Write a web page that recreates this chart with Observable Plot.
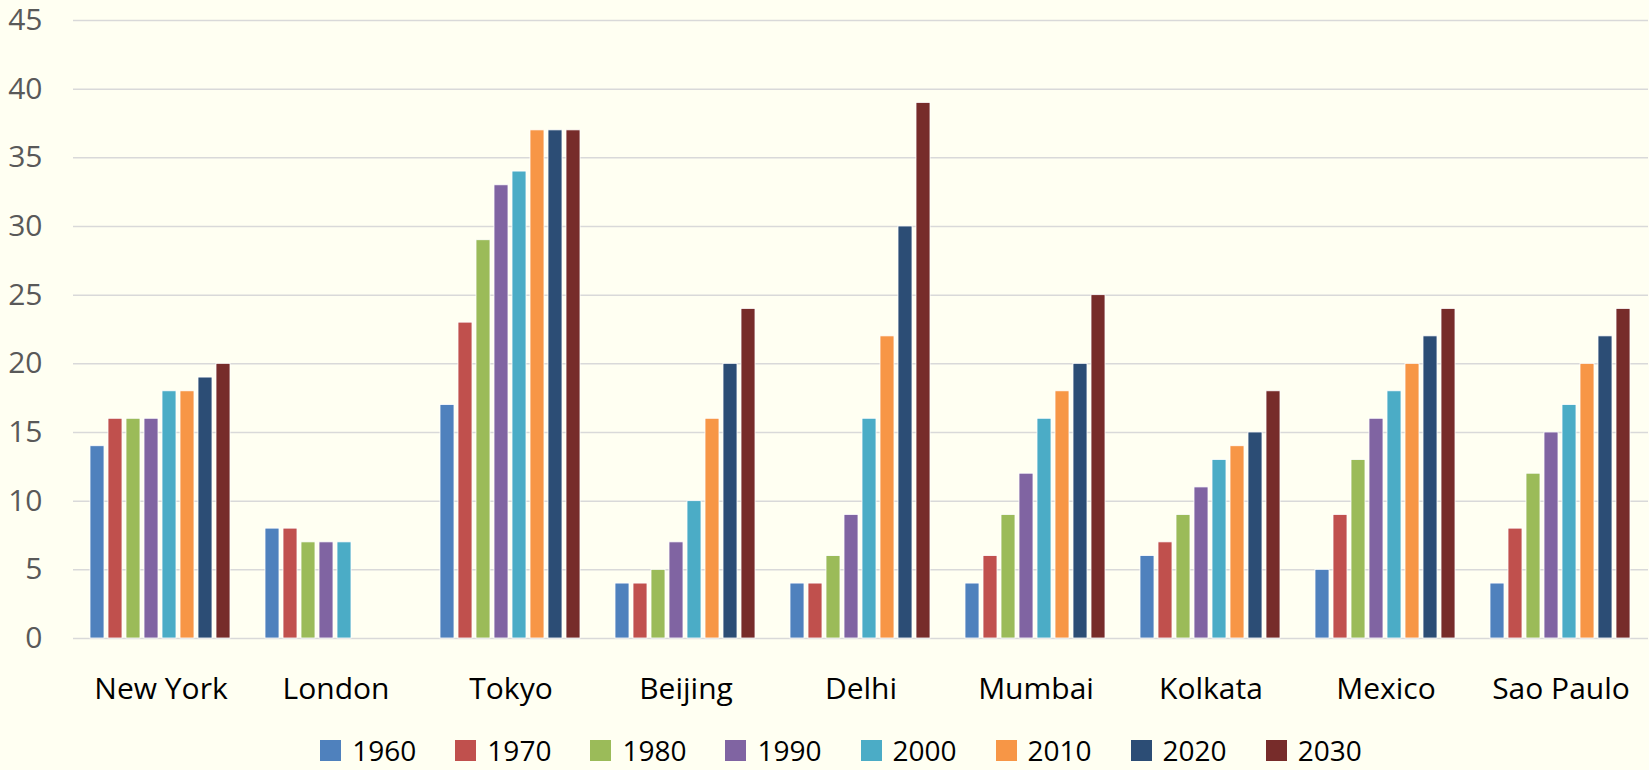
<!DOCTYPE html>
<html>
<head>
<meta charset="utf-8">
<script src="https://cdn.jsdelivr.net/npm/d3@7"></script>
<script src="https://cdn.jsdelivr.net/npm/@observablehq/plot@0.6"></script>
<style>
  html, body { margin: 0; padding: 0; background: #FFFFF2; overflow: hidden; }
  #chart svg { display: block; }
  #legend { display: flex; justify-content: center; align-items: center; height: 28px; margin-top: 36px; padding-left: 33px; font-family: "Open Sans", sans-serif; font-size: 28px; line-height: 28px; color: #000; }
  .item { display: flex; align-items: center; margin-right: 39px; }
  .item:last-child { margin-right: 0; }
  .sw { width: 21px; height: 21px; margin-right: 11px; }
</style>
</head>
<body>
<div id="chart"></div>
<div id="legend"></div>
<script>
const cities = ["New York", "London", "Tokyo", "Beijing", "Delhi", "Mumbai", "Kolkata", "Mexico", "Sao Paulo"];
const years = ["1960", "1970", "1980", "1990", "2000", "2010", "2020", "2030"];
const colors = ["#4F81BD", "#C0504D", "#9BBB59", "#8064A2", "#4BACC6", "#F79646", "#2C4D75", "#772C2A"];
const yTicks = [0, 5, 10, 15, 20, 25, 30, 35, 40, 45];

const v1960 = [14, 8, 17, 4, 4, 4, 6, 5, 4];
const v1970 = [16, 8, 23, 4, 4, 6, 7, 9, 8];
const v1980 = [16, 7, 29, 5, 6, 9, 9, 13, 12];
const v1990 = [16, 7, 33, 7, 9, 12, 11, 16, 15];
const v2000 = [18, 7, 34, 10, 16, 16, 13, 18, 17];
const v2010 = [18, null, 37, 16, 22, 18, 14, 20, 20];
const v2020 = [19, null, 37, 20, 30, 20, 15, 22, 22];
const v2030 = [20, null, 37, 24, 39, 25, 18, 24, 24];
const series = [v1960, v1970, v1980, v1990, v2000, v2010, v2020, v2030];

const data = [];
cities.forEach((c, i) => {
  years.forEach((y, j) => {
    const v = series[j][i];
    if (v != null) data.push({city: c, year: y, value: v});
  });
});

const plot = Plot.plot({
  width: 1649,
  height: 700,
  marginLeft: 73,
  marginRight: 1,
  marginTop: 20,
  marginBottom: 62,
  style: {fontFamily: "Open Sans, sans-serif", fontSize: "30px", background: "#FFFFF2", color: "#000", overflow: "visible"},
  fx: {domain: cities, paddingInner: 0, paddingOuter: 0},
  x: {domain: years, axis: null, paddingInner: 0.2, paddingOuter: 0.88},
  y: {domain: [0, 45]},
  color: {domain: years, range: colors},
  marks: [
    Plot.gridY(yTicks, {stroke: "#d9d9d9", strokeOpacity: 1, strokeWidth: 1.5}),
    Plot.axisY(yTicks, {tickSize: 0, tickPadding: 31, fontSize: 30, color: "#595959", label: null}),
    Plot.axisFx({anchor: "bottom", tickSize: 0, tickPadding: 39, fontSize: 30, label: null}),
    Plot.barY(data, {fx: "city", x: "year", y: "value", fill: "year", stroke: "#ffffff", strokeWidth: 0.8})
  ]
});
document.getElementById("chart").appendChild(plot);

const legend = document.getElementById("legend");
years.forEach((y, j) => {
  const item = document.createElement("div");
  item.className = "item";
  const sw = document.createElement("div");
  sw.className = "sw";
  sw.style.background = colors[j];
  const t = document.createElement("span");
  t.textContent = y;
  item.appendChild(sw);
  item.appendChild(t);
  legend.appendChild(item);
});
</script>
</body>
</html>
